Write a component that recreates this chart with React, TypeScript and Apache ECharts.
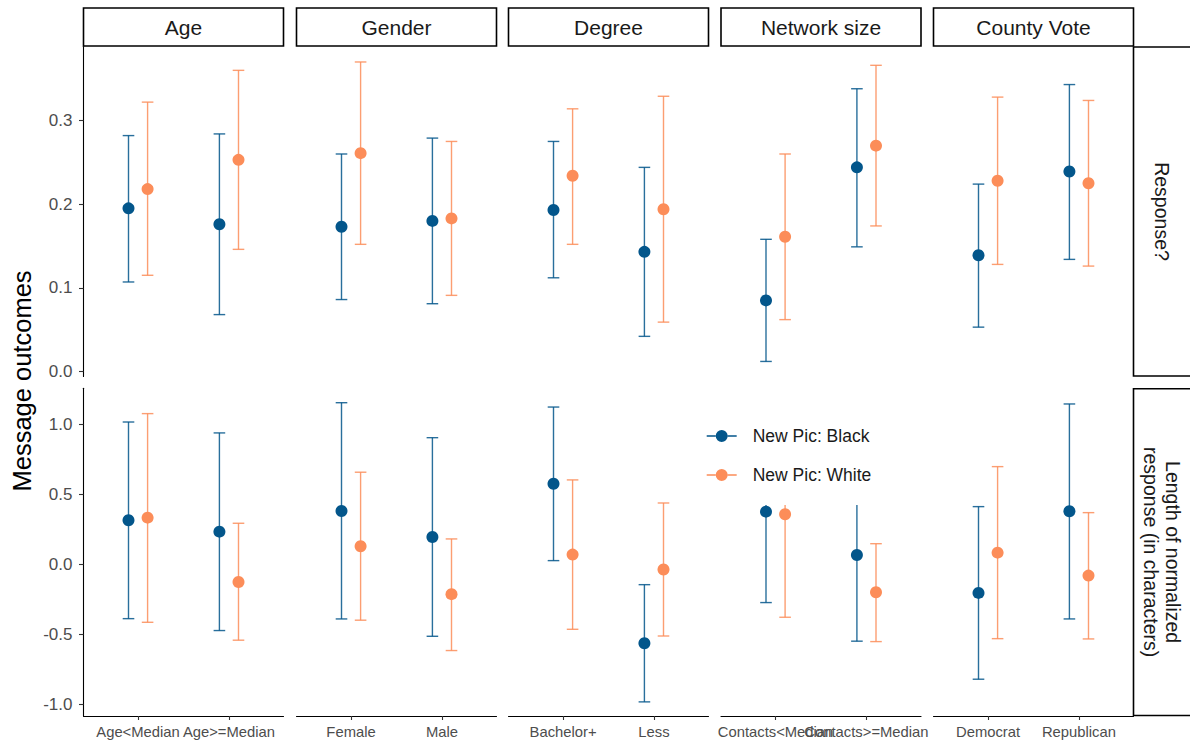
import React, { useEffect, useRef } from 'react';
import * as echarts from 'echarts';

// ---------- data ----------
const facets = ['Age', 'Gender', 'Degree', 'Network size', 'County Vote'];
const categories = [
  ['Age<Median', 'Age>=Median'],
  ['Female', 'Male'],
  ['Bachelor+', 'Less'],
  ['Contacts<Median', 'Contacts>=Median'],
  ['Democrat', 'Republican'],
];
const outcomes = ['Response?', 'Length of normalized\nresponse (in characters)'];
const groups = ['New Pic: Black', 'New Pic: White'];

// Values ordered facet by facet, two categories each (10 values)
const respBlackEst = [0.195, 0.176, 0.173, 0.180, 0.193, 0.143, 0.085, 0.244, 0.139, 0.239];
const respBlackLo = [0.107, 0.068, 0.086, 0.081, 0.112, 0.042, 0.012, 0.149, 0.053, 0.134];
const respBlackHi = [0.282, 0.284, 0.260, 0.279, 0.275, 0.244, 0.158, 0.338, 0.224, 0.343];
const respWhiteEst = [0.218, 0.253, 0.261, 0.183, 0.234, 0.194, 0.161, 0.270, 0.228, 0.225];
const respWhiteLo = [0.115, 0.146, 0.152, 0.091, 0.152, 0.059, 0.062, 0.174, 0.128, 0.126];
const respWhiteHi = [0.322, 0.360, 0.370, 0.275, 0.314, 0.329, 0.260, 0.366, 0.328, 0.324];

const lenBlackEst = [0.315, 0.233, 0.381, 0.195, 0.576, -0.565, 0.376, 0.066, -0.205, 0.379];
const lenBlackLo = [-0.389, -0.474, -0.391, -0.515, 0.026, -0.984, -0.274, -0.550, -0.822, -0.391];
const lenBlackHi = [1.017, 0.939, 1.155, 0.905, 1.124, -0.146, 1.03, 0.68, 0.412, 1.146];
const lenWhiteEst = [0.333, -0.127, 0.129, -0.214, 0.069, -0.038, 0.357, -0.200, 0.083, -0.081];
const lenWhiteLo = [-0.415, -0.543, -0.400, -0.617, -0.465, -0.513, -0.379, -0.553, -0.532, -0.534];
const lenWhiteHi = [1.077, 0.293, 0.658, 0.181, 0.603, 0.438, 1.09, 0.147, 0.698, 0.369];

const respTicks = [0, 0.1, 0.2, 0.3];
const lenTicks = [-1, -0.5, 0, 0.5, 1];

// ---------- styling ----------
const FONT = '"Liberation Sans", Arial, Helvetica, sans-serif';
const colors = ['#03568b', '#fc8d59'];
const dodge = [-0.105, 0.105];
const colLefts = [83.5, 296.5, 508.5, 721, 933.5];
const panelWidth = 200;
const rows = [
  { top: 46.5, height: 330, min: -0.006, max: 0.3885, ticks: respTicks },
  { top: 388.3, height: 327.7, min: -1.085, max: 1.258, ticks: lenTicks },
];

const dataByRow = [
  [
    { est: respBlackEst, lo: respBlackLo, hi: respBlackHi },
    { est: respWhiteEst, lo: respWhiteLo, hi: respWhiteHi },
  ],
  [
    { est: lenBlackEst, lo: lenBlackLo, hi: lenBlackHi },
    { est: lenWhiteEst, lo: lenWhiteLo, hi: lenWhiteHi },
  ],
];

const legendIcon =
  'path://M0,5.3 L9.2,5.3 L9.2,6.7 L0,6.7 Z M20.8,5.3 L30,5.3 L30,6.7 L20.8,6.7 Z M9,6 A6,6 0 1 0 21,6 A6,6 0 1 0 9,6 Z';

function makeXAxis(gridIndex: number, showAxis: boolean, showLine: boolean, values: number[], cats: string[]) {
  return {
    type: 'value',
    gridIndex,
    position: 'bottom',
    offset: 0,
    min: 0.4,
    max: 2.6,
    splitLine: { show: false },
    axisLine: { show: showAxis && showLine, onZero: false, lineStyle: { color: '#000', width: 1.1 } },
    axisTick: {
      show: showAxis,
      customValues: values,
      length: 4,
      lineStyle: { color: '#333', width: 1.1 },
    },
    axisLabel: {
      show: showAxis,
      customValues: values,
      showMinLabel: true,
      showMaxLabel: true,
      hideOverlap: false,
      formatter: (v: number) => cats[Math.round(v) - 1] ?? '',
      color: '#4d4d4d',
      fontSize: 14.8,
      fontFamily: FONT,
      margin: 8,
    },
  };
}

function buildOption() {
  const grid: any[] = [];
  const xAxis: any[] = [];
  const extraX: any[] = [];
  const yAxis: any[] = [];
  const series: any[] = [];
  const graphic: any[] = [];

  rows.forEach((row, r) => {
    facets.forEach((_f, c) => {
      const idx = r * 5 + c;
      grid.push({
        left: colLefts[c],
        top: row.top,
        width: panelWidth,
        height: row.height,
        containLabel: false,
      });
      const cats = categories[c];
      // first category label on the main axis, second on its own axis so both are always drawn
      xAxis.push(makeXAxis(idx, r === 1, true, [1], cats));
      if (r === 1) extraX.push(makeXAxis(idx, true, false, [2], cats));

      yAxis.push({
        type: 'value',
        gridIndex: idx,
        min: row.min,
        max: row.max,
        splitLine: { show: false },
        axisLine: { show: c === 0, onZero: false, lineStyle: { color: '#000', width: 1.1 } },
        axisTick: {
          show: c === 0,
          customValues: row.ticks,
          length: 4.5,
          lineStyle: { color: '#333', width: 1.1 },
        },
        axisLabel: {
          show: c === 0,
          customValues: row.ticks,
          showMinLabel: true,
          showMaxLabel: true,
          formatter: (v: number) => v.toFixed(1),
          color: '#4d4d4d',
          fontSize: 17,
          fontFamily: FONT,
          margin: 11,
        },
      });

      dataByRow[r].forEach((g, gi) => {
        const barData = [0, 1].map((k) => {
          const i = c * 2 + k;
          return [k + 1 + dodge[gi], g.lo[i], g.hi[i]];
        });
        const ptData = [0, 1].map((k) => {
          const i = c * 2 + k;
          return [k + 1 + dodge[gi], g.est[i]];
        });
        const col = colors[gi];
        series.push({
          type: 'custom',
          name: groups[gi],
          xAxisIndex: idx,
          yAxisIndex: idx,
          silent: true,
          z: 2,
          itemStyle: { color: col },
          encode: { x: 0, y: [1, 2] },
          data: barData,
          renderItem: (_params: any, api: any) => {
            const x = api.value(0);
            const pLo = api.coord([x, api.value(1)]);
            const pHi = api.coord([x, api.value(2)]);
            const hw = 5.8;
            const style = { stroke: col, lineWidth: 1.4, opacity: 0.85 };
            return {
              type: 'group',
              children: [
                { type: 'line', shape: { x1: pLo[0], y1: pLo[1], x2: pHi[0], y2: pHi[1] }, style },
                { type: 'line', shape: { x1: pLo[0] - hw, y1: pLo[1], x2: pLo[0] + hw, y2: pLo[1] }, style },
                { type: 'line', shape: { x1: pHi[0] - hw, y1: pHi[1], x2: pHi[0] + hw, y2: pHi[1] }, style },
              ],
            };
          },
        });
        series.push({
          type: 'scatter',
          name: groups[gi],
          xAxisIndex: idx,
          yAxisIndex: idx,
          silent: true,
          z: 3,
          symbol: 'circle',
          symbolSize: 12,
          itemStyle: { color: col, opacity: 1 },
          emphasis: { disabled: true },
          data: ptData,
        });
      });
    });
  });

  // top strips
  facets.forEach((f, c) => {
    graphic.push({
      type: 'rect',
      shape: { x: colLefts[c], y: 8, width: panelWidth, height: 38 },
      style: { fill: '#fff', stroke: '#000', lineWidth: 1.6 },
      silent: true,
    });
    graphic.push({
      type: 'text',
      x: colLefts[c] + panelWidth / 2,
      y: 27.5,
      silent: true,
      style: {
        text: f,
        fontSize: 21,
        fontFamily: FONT,
        fill: '#1a1a1a',
        align: 'center',
        verticalAlign: 'middle',
        textAlign: 'center',
        textVerticalAlign: 'middle',
      },
    });
  });

  // right strips
  rows.forEach((row, r) => {
    graphic.push({
      type: 'rect',
      shape: { x: 1133.5, y: row.top + 0.5, width: 70, height: row.height - 1 },
      style: { fill: '#fff', stroke: '#000', lineWidth: 1.6 },
      silent: true,
    });
    graphic.push({
      type: 'text',
      x: 1161.5,
      y: row.top + row.height / 2,
      rotation: -Math.PI / 2,
      silent: true,
      style: {
        text: outcomes[r],
        fontSize: 19.5,
        lineHeight: 22,
        fontFamily: FONT,
        fill: '#1a1a1a',
        align: 'center',
        verticalAlign: 'middle',
        textAlign: 'center',
        textVerticalAlign: 'middle',
      },
    });
  });

  // y axis title
  graphic.push({
    type: 'text',
    x: 22,
    y: 381,
    rotation: Math.PI / 2,
    silent: true,
    style: {
      text: 'Message outcomes',
      fontSize: 25.5,
      fontFamily: FONT,
      fill: '#000',
      align: 'center',
      verticalAlign: 'middle',
      textAlign: 'center',
      textVerticalAlign: 'middle',
    },
  });

  return {
    animation: false,
    backgroundColor: '#fff',
    textStyle: { fontFamily: FONT },
    grid,
    xAxis: [...xAxis, ...extraX],
    yAxis,
    series,
    graphic,
    legend: {
      orient: 'vertical',
      left: 702.7,
      top: 407,
      padding: [20, 14, 21, 4],
      itemGap: 21,
      itemWidth: 30,
      itemHeight: 12,
      backgroundColor: '#fff',
      selectedMode: false,
      z: 10,
      textStyle: {
        fontSize: 17.5,
        lineHeight: 18,
        color: '#1a1a1a',
        fontFamily: FONT,
        padding: [0, 0, 0, 11],
      },
      data: groups.map((g, gi) => ({
        name: g,
        icon: legendIcon,
        itemStyle: { color: colors[gi] },
      })),
    },
  };
}

export default function App() {
  const ref = useRef<HTMLDivElement>(null);
  useEffect(() => {
    if (!ref.current) return;
    const chart = echarts.init(ref.current, null, { renderer: 'svg' });
    chart.setOption(buildOption() as any);
    return () => chart.dispose();
  }, []);
  return (
    <div
      ref={ref}
      style={{ position: 'fixed', left: 0, top: 0, width: 1190, height: 744, background: '#fff' }}
    />
  );
}
